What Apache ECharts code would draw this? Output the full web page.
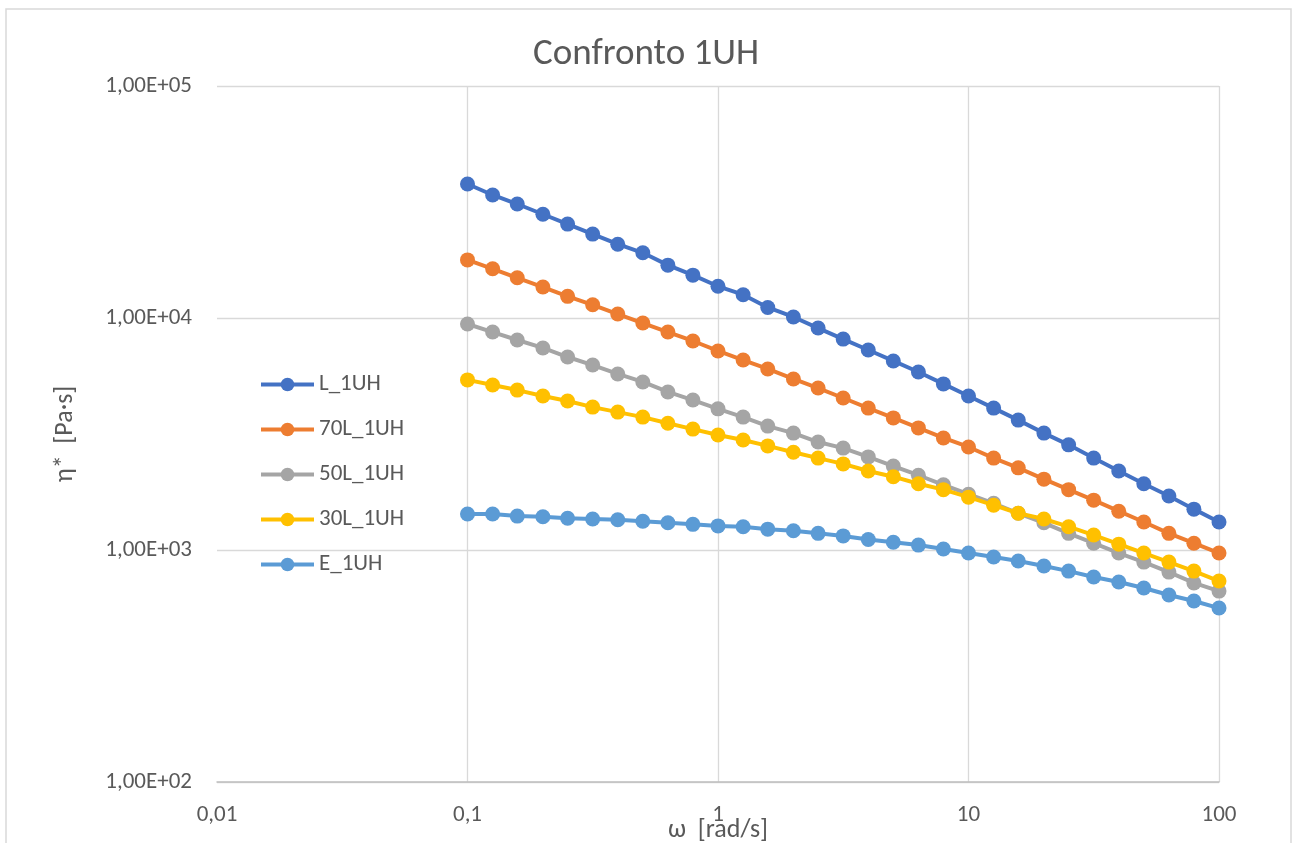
<!DOCTYPE html>
<html>
<head>
<meta charset="utf-8">
<script src="https://cdn.jsdelivr.net/npm/echarts@6/dist/echarts.min.js"></script>
<style>
html,body{margin:0;padding:0;background:#fff;overflow:hidden;}
#chart{width:1292px;height:843px;}
</style>
</head>
<body>
<div id="chart"></div>
<script>
// angular frequency [rad/s]
var omega = [0.1, 0.126, 0.158, 0.2, 0.251, 0.316, 0.398, 0.501, 0.631, 0.794,
             1, 1.26, 1.58, 2, 2.51, 3.16, 3.98, 5.01, 6.31, 7.94,
             10, 12.6, 15.8, 20, 25.1, 31.6, 39.8, 50.1, 63.1, 79.4, 100];

var seriesNames = ['L_1UH', '70L_1UH', '50L_1UH', '30L_1UH', 'E_1UH'];

var L_1UH = [37800, 33900, 31000, 28000, 25400, 23000, 20800, 19100, 16900, 15300,
             13700, 12600, 11100, 10100, 9050, 8110, 7280, 6530, 5850, 5200,
             4610, 4090, 3630, 3190, 2840, 2490, 2190, 1930, 1710, 1500, 1320];

var L70_1UH = [17800, 16300, 14900, 13600, 12400, 11400, 10400, 9510, 8700, 7960,
               7210, 6590, 6030, 5460, 4990, 4520, 4090, 3710, 3360, 3040,
               2780, 2490, 2260, 2020, 1820, 1640, 1470, 1320, 1180, 1070, 970];

var L50_1UH = [9420, 8700, 8040, 7430, 6790, 6270, 5740, 5300, 4800, 4430,
               4060, 3740, 3420, 3190, 2920, 2750, 2520, 2300, 2100, 1910,
               1740, 1590, 1440, 1310, 1180, 1070, 970, 887, 803, 721, 665];

var L30_1UH = [5410, 5140, 4890, 4610, 4390, 4130, 3930, 3740, 3520, 3320,
               3130, 2980, 2810, 2640, 2490, 2350, 2190, 2070, 1930, 1820,
               1690, 1560, 1440, 1360, 1260, 1160, 1060, 970, 887, 811, 735];

var E_1UH = [1430, 1430, 1400, 1390, 1370, 1360, 1350, 1330, 1310, 1290,
             1270, 1260, 1230, 1210, 1180, 1150, 1110, 1080, 1050, 1010,
             970, 933, 897, 853, 811, 765, 728, 686, 640, 603, 562];

var xTickLabels = ['0,01', '0,1', '1', '10', '100'];       // 1e-2 .. 1e2
var yTickLabels = ['1,00E+02', '1,00E+03', '1,00E+04', '1,00E+05']; // 1e2 .. 1e5

var colors = ['#4472C4', '#ED7D31', '#A5A5A5', '#FFC000', '#5B9BD5'];
var allValues = [L_1UH, L70_1UH, L50_1UH, L30_1UH, E_1UH];

var FONT = "Carlito, Lato, 'Noto Sans', sans-serif";
var TXT = '#595959';

function pairs(vals) {
  return omega.map(function (w, i) { return [w, vals[i]]; });
}

var series = seriesNames.map(function (n, k) {
  return {
    name: n,
    type: 'line',
    data: pairs(allValues[k]),
    symbol: 'circle',
    symbolSize: 15,
    showSymbol: true,
    color: colors[k],
    lineStyle: { width: 4, color: colors[k] },
    itemStyle: { color: colors[k] },
    emphasis: { disabled: true },
    animation: false,
    z: 2 + k
  };
});

var chart = echarts.init(document.getElementById('chart'));
chart.setOption({
  backgroundColor: '#ffffff',
  animation: false,
  title: {
    text: 'Confronto 1UH',
    left: 'center',
    top: 31,
    textStyle: { fontFamily: FONT, fontSize: 37, fontWeight: 'normal', color: TXT }
  },
  graphic: [{
    type: 'rect',
    shape: { x: 6, y: 9, width: 1285, height: 845 },
    style: { fill: 'none', stroke: '#d9d9d9', lineWidth: 1.5 },
    silent: true
  }],
  legend: {
    orient: 'vertical',
    left: 254,
    top: 368,
    itemWidth: 53,
    itemHeight: 17,
    itemGap: 22,
    data: seriesNames,
    lineStyle: { width: 4 },
    textStyle: { fontFamily: FONT, fontSize: 23, lineHeight: 23, color: TXT }
  },
  grid: { left: 217, right: 73, top: 86, bottom: 61, containLabel: false, outerBoundsMode: 'none' },
  xAxis: {
    type: 'log',
    logBase: 10,
    min: 0.01,
    max: 100,
    name: 'ω  [rad/s]',
    nameLocation: 'middle',
    nameGap: 35,
    nameMoveOverlap: false,
    nameTextStyle: { fontFamily: FONT, fontSize: 26, color: TXT },
    axisLine: { show: true, lineStyle: { color: '#bfbfbf', width: 1.5 } },
    axisTick: { show: false },
    axisLabel: {
      margin: 22,
      fontFamily: FONT, fontSize: 23, color: TXT,
      formatter: function (v) {
        var e = Math.round(Math.log10(v));
        return xTickLabels[e + 2];
      }
    },
    splitLine: { show: true, showMinLine: false, lineStyle: { color: '#d9d9d9', width: 1.3 } }
  },
  yAxis: {
    type: 'log',
    logBase: 10,
    min: 100,
    max: 100000,
    name: 'η*  [Pa·s]',
    nameLocation: 'middle',
    nameGap: 139,
    nameMoveOverlap: false,
    nameTextStyle: { fontFamily: FONT, fontSize: 26, color: TXT },
    axisLine: { show: false },
    axisTick: { show: false },
    axisLabel: {
      margin: 25,
      fontFamily: FONT, fontSize: 23, color: TXT,
      formatter: function (v) {
        var e = Math.round(Math.log10(v));
        return yTickLabels[e - 2];
      }
    },
    splitLine: { show: true, lineStyle: { color: '#d9d9d9', width: 1.3 } }
  },
  series: series
});
</script>
</body>
</html>
